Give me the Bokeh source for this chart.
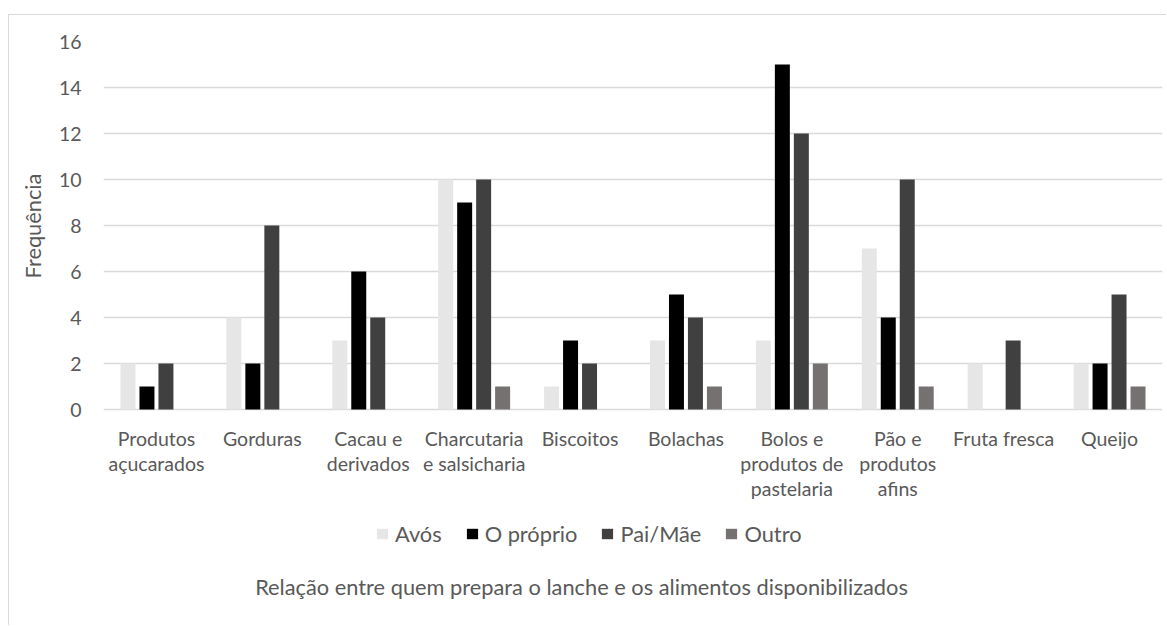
from bokeh.core.properties import value
from bokeh.embed import file_html
from bokeh.models import (FactorRange, FixedTicker, Label, Legend, LegendItem,
                          Range1d, Title)
from bokeh.plotting import figure
from bokeh.resources import INLINE
from bokeh.transform import dodge

# Food groups offered at snack time (category labels, with line breaks)
categories = [
    "Produtos\naçucarados",
    "Gorduras",
    "Cacau e\nderivados",
    "Charcutaria\ne salsicharia",
    "Biscoitos",
    "Bolachas",
    "Bolos e\nprodutos de\npastelaria",
    "Pão e\nprodutos\nafins",
    "Fruta fresca",
    "Queijo",
]

# Who prepares the snack
series_names = ["Avós", "O próprio", "Pai/Mãe", "Outro"]

avos = [2, 4, 3, 10, 1, 3, 3, 7, 2, 2]
o_proprio = [1, 2, 6, 9, 3, 5, 15, 4, 0, 2]
pai_mae = [2, 8, 4, 10, 2, 4, 12, 10, 3, 5]
outro = [0, 0, 0, 1, 0, 1, 2, 1, 0, 1]

y_ticks = [0, 2, 4, 6, 8, 10, 12, 14, 16]

colors = ["#e7e6e6", "#000000", "#404040", "#767171"]
TEXT = "#595959"
GRID = "#d9d9d9"
FONT = "Lato"
FS_TICK = "19.5px"
FS_BIG = "21.8px"

# chart area is inset slightly from the page and framed on top/left
OFF_X, OFF_Y = 9, 15
W, H = 1167 - OFF_X, 626 - OFF_Y
BORDER_L, BORDER_T = 93, 26
FRAME_W = 1060
FRAME_H = H - BORDER_T
VALUE_PX = 368  # height of the 0..16 value band

y_top = y_ticks[-1]
y_bottom = y_top - FRAME_H * (y_ticks[-1] - y_ticks[0]) / VALUE_PX

p = figure(
    width=W, height=H,
    x_range=FactorRange(factors=categories, range_padding=0),
    y_range=Range1d(y_bottom, y_top),
    x_axis_location=None,
    output_backend="svg", toolbar_location=None,
    min_border_left=BORDER_L, min_border_right=W - BORDER_L - FRAME_W,
    min_border_top=BORDER_T, min_border_bottom=0,
)
p.margin = (OFF_Y, 0, 0, OFF_X)
p.styles = {"box-shadow": "-1px -1px 0 0 #d9d9d9"}
p.outline_line_color = None
p.background_fill_color = "white"
p.border_fill_color = "white"

data = dict(cat=categories, avos=avos, o_proprio=o_proprio,
            pai_mae=pai_mae, outro=outro)
fields = ["avos", "o_proprio", "pai_mae", "outro"]

cat_px = FRAME_W / len(categories)
bar_w = 15 / cat_px
offsets = [-28.5 / cat_px, -9.5 / cat_px, 9.5 / cat_px, 28.5 / cat_px]

renderers = []
for field, off, col in zip(fields, offsets, colors):
    r = p.vbar(x=dodge("cat", off, range=p.x_range), top=field, width=bar_w,
               source=data, fill_color=col, line_color=None)
    renderers.append(r)

# Value axis
p.yaxis.ticker = FixedTicker(ticks=y_ticks)
p.yaxis.axis_line_color = None
p.yaxis.major_tick_line_color = None
p.yaxis.minor_tick_line_color = None
p.yaxis.major_tick_out = 0
p.yaxis.major_tick_in = 0
p.yaxis.minor_tick_out = 0
p.yaxis.major_label_standoff = 22
p.yaxis.major_label_text_font = FONT
p.yaxis.major_label_text_font_size = FS_TICK
p.yaxis.major_label_text_color = TEXT

p.xgrid.grid_line_color = None
p.ygrid.grid_line_color = GRID
p.ygrid.grid_line_width = 1.5

p.add_layout(Title(text="Frequência", align="left", offset=348, standoff=17,
                   vertical_align="middle",
                   text_font=FONT, text_font_size=FS_BIG, text_font_style="normal",
                   text_color=TEXT), "left")

# Category labels under the baseline
p.text(x=categories, y=[0] * len(categories), text=categories,
       y_offset=17, text_align="center", text_baseline="top",
       text_font=value(FONT), text_font_size=FS_TICK, text_color=TEXT,
       text_line_height=1.1)

# Legend
legend = Legend(
    items=[LegendItem(label=n, renderers=[r]) for n, r in zip(series_names, renderers)],
    orientation="horizontal",
    location=(272, 79),
    glyph_width=14, glyph_height=13, label_height=20,
    label_standoff=6, spacing=23, padding=0, margin=0,
    border_line_color=None, background_fill_alpha=0,
    label_text_font=FONT, label_text_font_size=FS_BIG, label_text_color=TEXT,
)
p.add_layout(legend, "center")

# Horizontal axis title
p.add_layout(Label(x=478, y=40, x_units="screen", y_units="screen",
                   text="Relação entre quem prepara o lanche e os alimentos disponibilizados",
                   text_align="center", text_baseline="middle",
                   text_font=FONT, text_font_size=FS_BIG, text_color=TEXT))

open("out.html", "w").write(file_html(p, INLINE))
